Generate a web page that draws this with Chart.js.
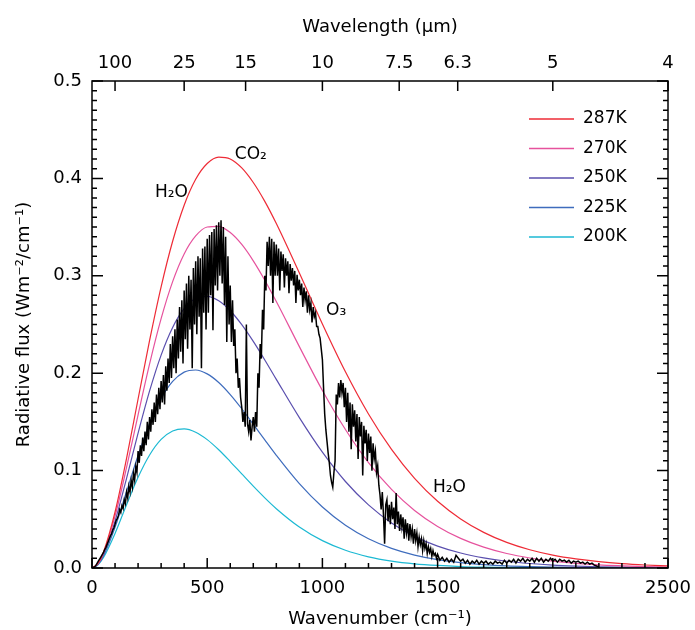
<!DOCTYPE html>
<html>
<head>
<meta charset="utf-8">
<script src="https://cdn.jsdelivr.net/npm/chart.js@4.4.0/dist/chart.umd.min.js"></script>
<style>
  html, body { margin: 0; padding: 0; background: #fff; }
</style>
</head>
<body>
<canvas id="chart" width="695" height="630"></canvas>
<script>
// Curvas de cuerpo negro (Wm-2/cm-1)
const planckWavenumbers = [0, 25, 50, 100, 150, 200, 250, 300, 350, 400, 450, 500, 550, 600, 650, 700, 750, 800,
  900, 1000, 1100, 1200, 1300, 1400, 1500, 1600, 1700, 1800, 1900, 2000, 2100, 2200, 2300, 2400, 2500];
const flux287 = [0, 0.0044, 0.0164, 0.0575, 0.1126, 0.1735, 0.2337, 0.2887, 0.3355, 0.3725, 0.3991, 0.4153, 0.4219, 0.4200, 0.4108, 0.3958, 0.3764, 0.3536,
  0.3028, 0.2505, 0.2014, 0.1581, 0.1217, 0.0920, 0.0685, 0.0504, 0.0366, 0.0263, 0.0187, 0.0132, 0.0093, 0.0065, 0.0045, 0.0031, 0.0021];
const flux270 = [0, 0.0041, 0.0153, 0.0532, 0.1032, 0.1573, 0.2096, 0.2560, 0.2940, 0.3224, 0.3409, 0.3501, 0.3508, 0.3444, 0.3322, 0.3154, 0.2955, 0.2736,
  0.2273, 0.1823, 0.1422, 0.1082, 0.0807, 0.0591, 0.0427, 0.0304, 0.0214, 0.0149, 0.0103, 0.0070, 0.0048, 0.0032, 0.0022, 0.0014, 0.0010];
const flux250 = [0, 0.0038, 0.0140, 0.0481, 0.0921, 0.1385, 0.1818, 0.2186, 0.2470, 0.2662, 0.2766, 0.2789, 0.2743, 0.2641, 0.2498, 0.2326, 0.2136, 0.1937,
  0.1544, 0.1189, 0.0888, 0.0648, 0.0463, 0.0325, 0.0225, 0.0154, 0.0104, 0.0069, 0.0046, 0.0030, 0.0020, 0.0013, 0.0008, 0.0005, 0.0003];
const flux225 = [0, 0.0034, 0.0124, 0.0418, 0.0785, 0.1155, 0.1482, 0.1739, 0.1915, 0.2011, 0.2033, 0.1993, 0.1905, 0.1781, 0.1635, 0.1477, 0.1315, 0.1157,
  0.0866, 0.0626, 0.0439, 0.0301, 0.0202, 0.0133, 0.0086, 0.0055, 0.0035, 0.0022, 0.0014, 0.0008, 0.0005, 0.0003, 0.0002, 0.0001, 0.0001];
const flux200 = [0, 0.0030, 0.0108, 0.0355, 0.0650, 0.0931, 0.1160, 0.1320, 0.1407, 0.1428, 0.1394, 0.1318, 0.1214, 0.1093, 0.0966, 0.0840, 0.0720, 0.0609,
  0.0421, 0.0281, 0.0182, 0.0115, 0.0071, 0.0043, 0.0026, 0.0015, 0.0009, 0.0005, 0.0003, 0.0002, 0.0001, 0.0001, 0, 0, 0];

const temperatures = ['287K', '270K', '250K', '225K', '200K'];
const curveColors = ['#ee2b36', '#e6529d', '#5a4fae', '#3e6cbd', '#1cb9d3'];

// Espectro medido (línea negra): cada 5 cm-1 hasta 1500, luego cada 10
const specWavenumbers = [
  0, 5, 10, 15, 20, 25, 30, 35, 40, 45, 50, 55, 60, 65, 70, 75, 80, 85, 90, 95,
  100, 105, 110, 115, 120, 125, 130, 135, 140, 145, 150, 155, 160, 165, 170, 175, 180, 185, 190, 195,
  200, 205, 210, 215, 220, 225, 230, 235, 240, 245, 250, 255, 260, 265, 270, 275, 280, 285, 290, 295,
  300, 305, 310, 315, 320, 325, 330, 335, 340, 345, 350, 355, 360, 365, 370, 375, 380, 385, 390, 395,
  400, 405, 410, 415, 420, 425, 430, 435, 440, 445, 450, 455, 460, 465, 470, 475, 480, 485, 490, 495,
  500, 505, 510, 515, 520, 525, 530, 535, 540, 545, 550, 555, 560, 565, 570, 575, 580, 585, 590, 595,
  600, 605, 610, 615, 620, 625, 630, 635, 640, 645, 650, 655, 660, 665, 670, 675, 680, 685, 690, 695,
  700, 705, 710, 715, 720, 725, 730, 735, 740, 745, 750, 755, 760, 765, 770, 775, 780, 785, 790, 795,
  800, 805, 810, 815, 820, 825, 830, 835, 840, 845, 850, 855, 860, 865, 870, 875, 880, 885, 890, 895,
  900, 905, 910, 915, 920, 925, 930, 935, 940, 945, 950, 955, 960, 965, 970, 975, 980, 985, 990, 995,
  1000, 1005, 1010, 1015, 1020, 1025, 1030, 1035, 1040, 1045, 1050, 1055, 1060, 1065, 1070, 1075, 1080, 1085, 1090, 1095,
  1100, 1105, 1110, 1115, 1120, 1125, 1130, 1135, 1140, 1145, 1150, 1155, 1160, 1165, 1170, 1175, 1180, 1185, 1190, 1195,
  1200, 1205, 1210, 1215, 1220, 1225, 1230, 1235, 1240, 1245, 1250, 1255, 1260, 1265, 1270, 1275, 1280, 1285, 1290, 1295,
  1300, 1305, 1310, 1315, 1320, 1325, 1330, 1335, 1340, 1345, 1350, 1355, 1360, 1365, 1370, 1375, 1380, 1385, 1390, 1395,
  1400, 1405, 1410, 1415, 1420, 1425, 1430, 1435, 1440, 1445, 1450, 1455, 1460, 1465, 1470, 1475, 1480, 1485, 1490, 1495,
  1500,
  1510, 1520, 1530, 1540, 1550, 1560, 1570, 1580, 1590, 1600,
  1610, 1620, 1630, 1640, 1650, 1660, 1670, 1680, 1690, 1700,
  1710, 1720, 1730, 1740, 1750, 1760, 1770, 1780, 1790, 1800,
  1810, 1820, 1830, 1840, 1850, 1860, 1870, 1880, 1890, 1900,
  1910, 1920, 1930, 1940, 1950, 1960, 1970, 1980, 1990, 2000,
  2010, 2020, 2030, 2040, 2050, 2060, 2070, 2080, 2090, 2100,
  2110, 2120, 2130, 2140, 2150, 2160, 2170, 2180, 2190, 2200
];
const specFlux = [
  0, 0.0005, 0.001, 0.002, 0.004, 0.006, 0.008, 0.010, 0.012, 0.014, 0.016, 0.019, 0.021, 0.024, 0.027, 0.030, 0.033, 0.035, 0.039, 0.041,
  0.045, 0.049, 0.051, 0.054, 0.060, 0.057, 0.064, 0.061, 0.070, 0.066, 0.078, 0.072, 0.084, 0.078, 0.090, 0.083, 0.097, 0.090, 0.104, 0.098,
  0.120, 0.108, 0.126, 0.115, 0.134, 0.120, 0.140, 0.126, 0.150, 0.132, 0.155, 0.140, 0.163, 0.147, 0.170, 0.150, 0.178, 0.158, 0.185, 0.163,
  0.192, 0.170, 0.198, 0.168, 0.207, 0.182, 0.215, 0.190, 0.230, 0.195, 0.238, 0.205, 0.245, 0.200, 0.255, 0.215, 0.268, 0.222, 0.275, 0.210,
  0.285, 0.235, 0.292, 0.225, 0.300, 0.245, 0.296, 0.205, 0.308, 0.250, 0.315, 0.240, 0.320, 0.258, 0.318, 0.205, 0.328, 0.262, 0.330, 0.245,
  0.338, 0.262, 0.342, 0.280, 0.345, 0.244, 0.348, 0.290, 0.352, 0.285, 0.355, 0.300, 0.357, 0.292, 0.350, 0.270, 0.340, 0.232, 0.320, 0.250,
  0.290, 0.232, 0.275, 0.228, 0.245, 0.200, 0.215, 0.185, 0.195, 0.175, 0.165, 0.150, 0.160, 0.145, 0.250, 0.148, 0.140, 0.152, 0.131, 0.145,
  0.155, 0.140, 0.160, 0.145, 0.200, 0.185, 0.230, 0.215, 0.265, 0.245, 0.300, 0.285, 0.335, 0.310, 0.340, 0.300, 0.338, 0.272, 0.335, 0.300,
  0.332, 0.300, 0.328, 0.285, 0.325, 0.305, 0.322, 0.288, 0.318, 0.300, 0.315, 0.282, 0.312, 0.295, 0.308, 0.290, 0.305, 0.272, 0.301, 0.285,
  0.296, 0.280, 0.292, 0.268, 0.288, 0.275, 0.284, 0.262, 0.280, 0.265, 0.272, 0.252, 0.268, 0.258, 0.262, 0.248, 0.248, 0.240, 0.236, 0.225,
  0.214, 0.185, 0.158, 0.142, 0.130, 0.118, 0.108, 0.095, 0.088, 0.083, 0.098, 0.110, 0.178, 0.168, 0.190, 0.175, 0.193, 0.180, 0.190, 0.165,
  0.185, 0.150, 0.180, 0.140, 0.170, 0.122, 0.168, 0.145, 0.162, 0.130, 0.158, 0.112, 0.155, 0.135, 0.150, 0.095, 0.146, 0.128, 0.142, 0.110,
  0.138, 0.118, 0.135, 0.100, 0.128, 0.112, 0.120, 0.098, 0.105, 0.085, 0.075, 0.060, 0.078, 0.055, 0.025, 0.065, 0.070, 0.048, 0.065, 0.045,
  0.068, 0.050, 0.062, 0.040, 0.077, 0.045, 0.058, 0.038, 0.055, 0.042, 0.052, 0.030, 0.050, 0.036, 0.046, 0.028, 0.045, 0.032, 0.040, 0.025,
  0.040, 0.028, 0.036, 0.022, 0.032, 0.024, 0.030, 0.018, 0.028, 0.020, 0.025, 0.015, 0.022, 0.016, 0.020, 0.012, 0.018, 0.013, 0.015, 0.010,
  0.014,
  0.008, 0.011, 0.007, 0.010, 0.006, 0.009, 0.006, 0.013, 0.010, 0.007,
  0.009, 0.005, 0.008, 0.004, 0.007, 0.005, 0.008, 0.004, 0.007, 0.005,
  0.007, 0.004, 0.006, 0.004, 0.007, 0.005, 0.006, 0.004, 0.008, 0.005,
  0.008, 0.006, 0.009, 0.005, 0.009, 0.007, 0.010, 0.006, 0.009, 0.007,
  0.010, 0.006, 0.010, 0.007, 0.010, 0.006, 0.009, 0.007, 0.010, 0.007,
  0.009, 0.006, 0.009, 0.007, 0.008, 0.006, 0.008, 0.005, 0.007, 0.006,
  0.007, 0.005, 0.006, 0.004, 0.006, 0.004, 0.005, 0.003, 0.002, 0.001
];

// Eje superior: longitud de onda en micras
const wavelengthValues = [100, 25, 15, 10, 7.5, 6.3, 5, 4];
const wavelengthLabels = ['100', '25', '15', '10', '7.5', '6.3', '5', '4'];

// Etiquetas de bandas de absorción (en coordenadas de datos)
const bandLabels = ['H₂O', 'CO₂', 'O₃', 'H₂O'];
const bandWavenumbers = [273, 620, 1016, 1480];
const bandFlux = [0.385, 0.424, 0.264, 0.083];

const FONT = 'DejaVu Sans';
Chart.defaults.font.family = FONT;
Chart.defaults.font.size = 18;
Chart.defaults.color = '#000';

const toPoints = (xs, ys) => xs.map((x, i) => ({ x: x, y: ys[i] }));
const planckSeries = [flux287, flux270, flux250, flux225, flux200];

// el espectro va primero para que se dibuje encima
const datasets = [{
  label: 'spectrum',
  data: toPoints(specWavenumbers, specFlux),
  borderColor: '#000',
  borderWidth: 1.5,
  pointRadius: 0,
  tension: 0,
  fill: false
}];
planckSeries.forEach((serie, i) => {
  datasets.push({
    label: temperatures[i],
    data: toPoints(planckWavenumbers, serie),
    borderColor: curveColors[i],
    borderWidth: 1.2,
    pointRadius: 0,
    cubicInterpolationMode: 'monotone',
    fill: false
  });
});

// Marco con marcas hacia dentro, leyenda y etiquetas de bandas
const frame = {
  id: 'frame',
  afterDatasetsDraw(chart) {
    const { ctx, chartArea: a, scales } = chart;
    ctx.save();
    ctx.strokeStyle = '#000';
    ctx.lineWidth = 1.5;
    ctx.strokeRect(a.left, a.top, a.right - a.left, a.bottom - a.top);

    ctx.beginPath();
    for (let v = 0; v <= 2500; v += 100) {
      const px = scales.x.getPixelForValue(v);
      const len = v % 500 === 0 ? 10 : 5;
      ctx.moveTo(px, a.bottom);
      ctx.lineTo(px, a.bottom - len);
    }
    scales.x2.ticks.forEach(t => {
      const px = scales.x2.getPixelForValue(t.value);
      ctx.moveTo(px, a.top);
      ctx.lineTo(px, a.top + 10);
    });
    for (let i = 0; i <= 50; i++) {
      const py = scales.y.getPixelForValue(i / 100);
      const len = i % 10 === 0 ? 11 : 5;
      ctx.moveTo(a.left, py);
      ctx.lineTo(a.left + len, py);
      ctx.moveTo(a.right, py);
      ctx.lineTo(a.right - len, py);
    }
    ctx.stroke();

    // leyenda
    ctx.font = '17px ' + FONT;
    ctx.textBaseline = 'middle';
    ctx.textAlign = 'left';
    ctx.fillStyle = '#000';
    const lx = a.right - 139;
    chart.data.datasets.slice(1).forEach((ds, i) => {
      const ly = a.top + 38 + i * 29.5;
      ctx.strokeStyle = ds.borderColor;
      ctx.lineWidth = 1.3;
      ctx.beginPath();
      ctx.moveTo(lx, ly);
      ctx.lineTo(lx + 45, ly);
      ctx.stroke();
      ctx.fillText(ds.label, lx + 54, ly);
    });

    // bandas
    bandLabels.forEach((txt, i) => {
      const px = scales.x.getPixelForValue(bandWavenumbers[i]);
      const py = scales.y.getPixelForValue(bandFlux[i]);
      ctx.fillText(txt, px, py);
    });
    ctx.restore();
  }
};

const fixBox = (w, h) => s => {
  if (w !== null) s.width = w;
  if (h !== null) s.height = h;
  s.paddingLeft = 0; s.paddingRight = 0; s.paddingTop = 0; s.paddingBottom = 0;
};

new Chart(document.getElementById('chart').getContext('2d'), {
  type: 'line',
  data: { datasets: datasets },
  plugins: [frame],
  options: {
    responsive: false,
    animation: false,
    devicePixelRatio: 1,
    layout: { padding: { left: 0, right: 27, top: 0, bottom: 0 } },
    plugins: { legend: { display: false }, tooltip: { enabled: false } },
    scales: {
      x: {
        type: 'linear', position: 'bottom', min: 0, max: 2500,
        ticks: { stepSize: 500, padding: 10, maxRotation: 0, autoSkip: false, callback: v => String(v) },
        grid: { display: false, drawTicks: false },
        border: { display: false },
        title: { display: true, text: 'Wavenumber (cm⁻¹)', padding: { top: 0, bottom: 0 } },
        afterFit: fixBox(null, 62)
      },
      x2: {
        type: 'linear', position: 'top', min: 0, max: 2500,
        afterBuildTicks: s => { s.ticks = wavelengthValues.map(l => ({ value: 10000 / l })); },
        ticks: { padding: 7, maxRotation: 0, autoSkip: false, callback: (v, i) => wavelengthLabels[i] },
        grid: { display: false, drawTicks: false },
        border: { display: false },
        title: { display: true, text: 'Wavelength (μm)', padding: { top: 17, bottom: 0 } },
        afterFit: fixBox(null, 81)
      },
      y: {
        type: 'linear', position: 'left', min: 0, max: 0.5,
        ticks: { stepSize: 0.1, padding: 10, callback: v => v.toFixed(1) },
        grid: { display: false, drawTicks: false },
        border: { display: false },
        title: { display: true, text: 'Radiative flux (Wm⁻²/cm⁻¹)', padding: { top: 14, bottom: 0 } },
        afterFit: fixBox(92, null)
      }
    }
  }
});
</script>
</body>
</html>
